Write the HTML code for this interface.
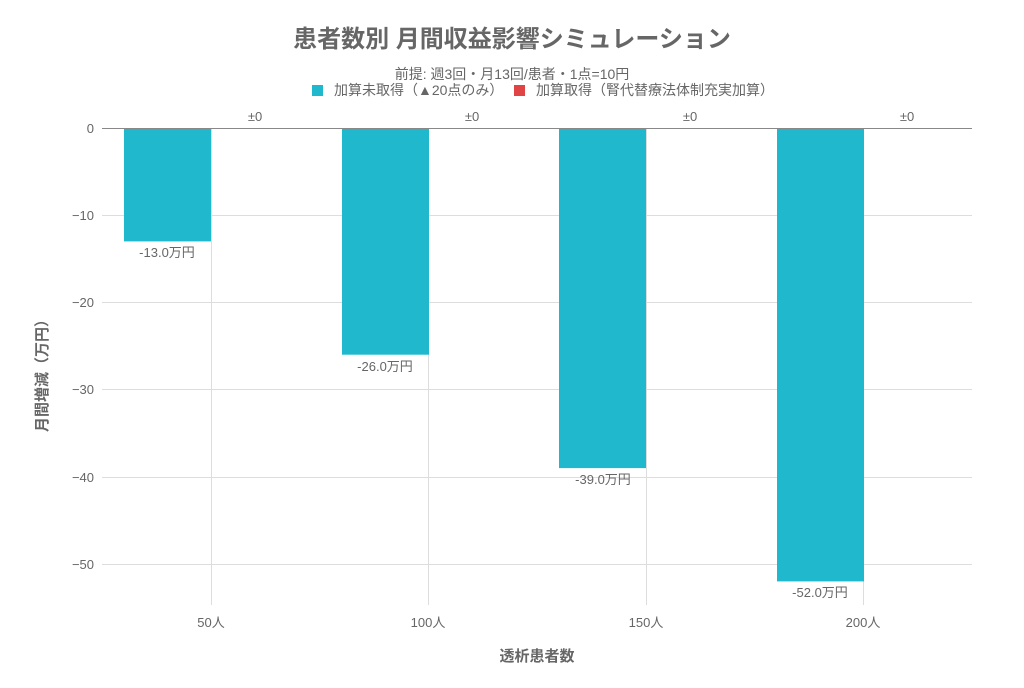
<!DOCTYPE html>
<html><head><meta charset="utf-8"><style>
body{margin:0;background:#fff}
text{font-family:"Liberation Sans","Noto Sans CJK JP",sans-serif;fill:#666}
</style></head><body>
<svg width="1024" height="683" xmlns="http://www.w3.org/2000/svg">
<text x="512" y="47" text-anchor="middle" font-size="24" font-weight="bold" fill="#666">患者数別 月間収益影響シミュレーション</text>
<text x="512" y="79" text-anchor="middle" font-size="14">前提: 週3回・月13回/患者・1点=10円</text>
<rect x="312" y="85" width="11" height="11" fill="#20b8cc"/>
<text x="334" y="95" font-size="14">加算未取得（▲20点のみ）</text>
<rect x="514" y="85" width="11" height="11" fill="#e04444"/>
<text x="536" y="95" font-size="14">加算取得（腎代替療法体制充実加算）</text>
<g stroke="#ddd" stroke-width="1">
<line x1="102" y1="215.5" x2="972" y2="215.5"/>
<line x1="102" y1="302.5" x2="972" y2="302.5"/>
<line x1="102" y1="389.5" x2="972" y2="389.5"/>
<line x1="102" y1="477.5" x2="972" y2="477.5"/>
<line x1="102" y1="564.5" x2="972" y2="564.5"/>
<line x1="211.5" y1="128" x2="211.5" y2="605"/>
<line x1="428.5" y1="128" x2="428.5" y2="605"/>
<line x1="646.5" y1="128" x2="646.5" y2="605"/>
<line x1="863.5" y1="128" x2="863.5" y2="605"/>
</g>
<g fill="#20b8cc">
<rect x="124" y="128" width="87" height="113.4"/>
<rect x="342" y="128" width="87" height="226.7"/>
<rect x="559" y="128" width="87" height="340.1"/>
<rect x="777" y="128" width="87" height="453.4"/>
</g>
<line x1="102" y1="128.5" x2="972" y2="128.5" stroke="#888" stroke-width="1"/>
<g font-size="13" text-anchor="middle">
<text x="167" y="257">-13.0万円</text>
<text x="385" y="371">-26.0万円</text>
<text x="603" y="484">-39.0万円</text>
<text x="820" y="597">-52.0万円</text>
<text x="255" y="121">±0</text>
<text x="472" y="121">±0</text>
<text x="690" y="121">±0</text>
<text x="907" y="121">±0</text>
</g>
<g font-size="13" text-anchor="end">
<text x="94" y="133">0</text>
<text x="94" y="220">−10</text>
<text x="94" y="307">−20</text>
<text x="94" y="394">−30</text>
<text x="94" y="482">−40</text>
<text x="94" y="569">−50</text>
</g>
<g font-size="13" text-anchor="middle">
<text x="211" y="627">50人</text>
<text x="428" y="627">100人</text>
<text x="646" y="627">150人</text>
<text x="863" y="627">200人</text>
</g>
<text x="537" y="661" text-anchor="middle" font-size="15" font-weight="bold">透析患者数</text>
<text transform="translate(47,372) rotate(-90)" text-anchor="middle" font-size="15" font-weight="bold">月間増減（万円）</text>
</svg>
</body></html>
